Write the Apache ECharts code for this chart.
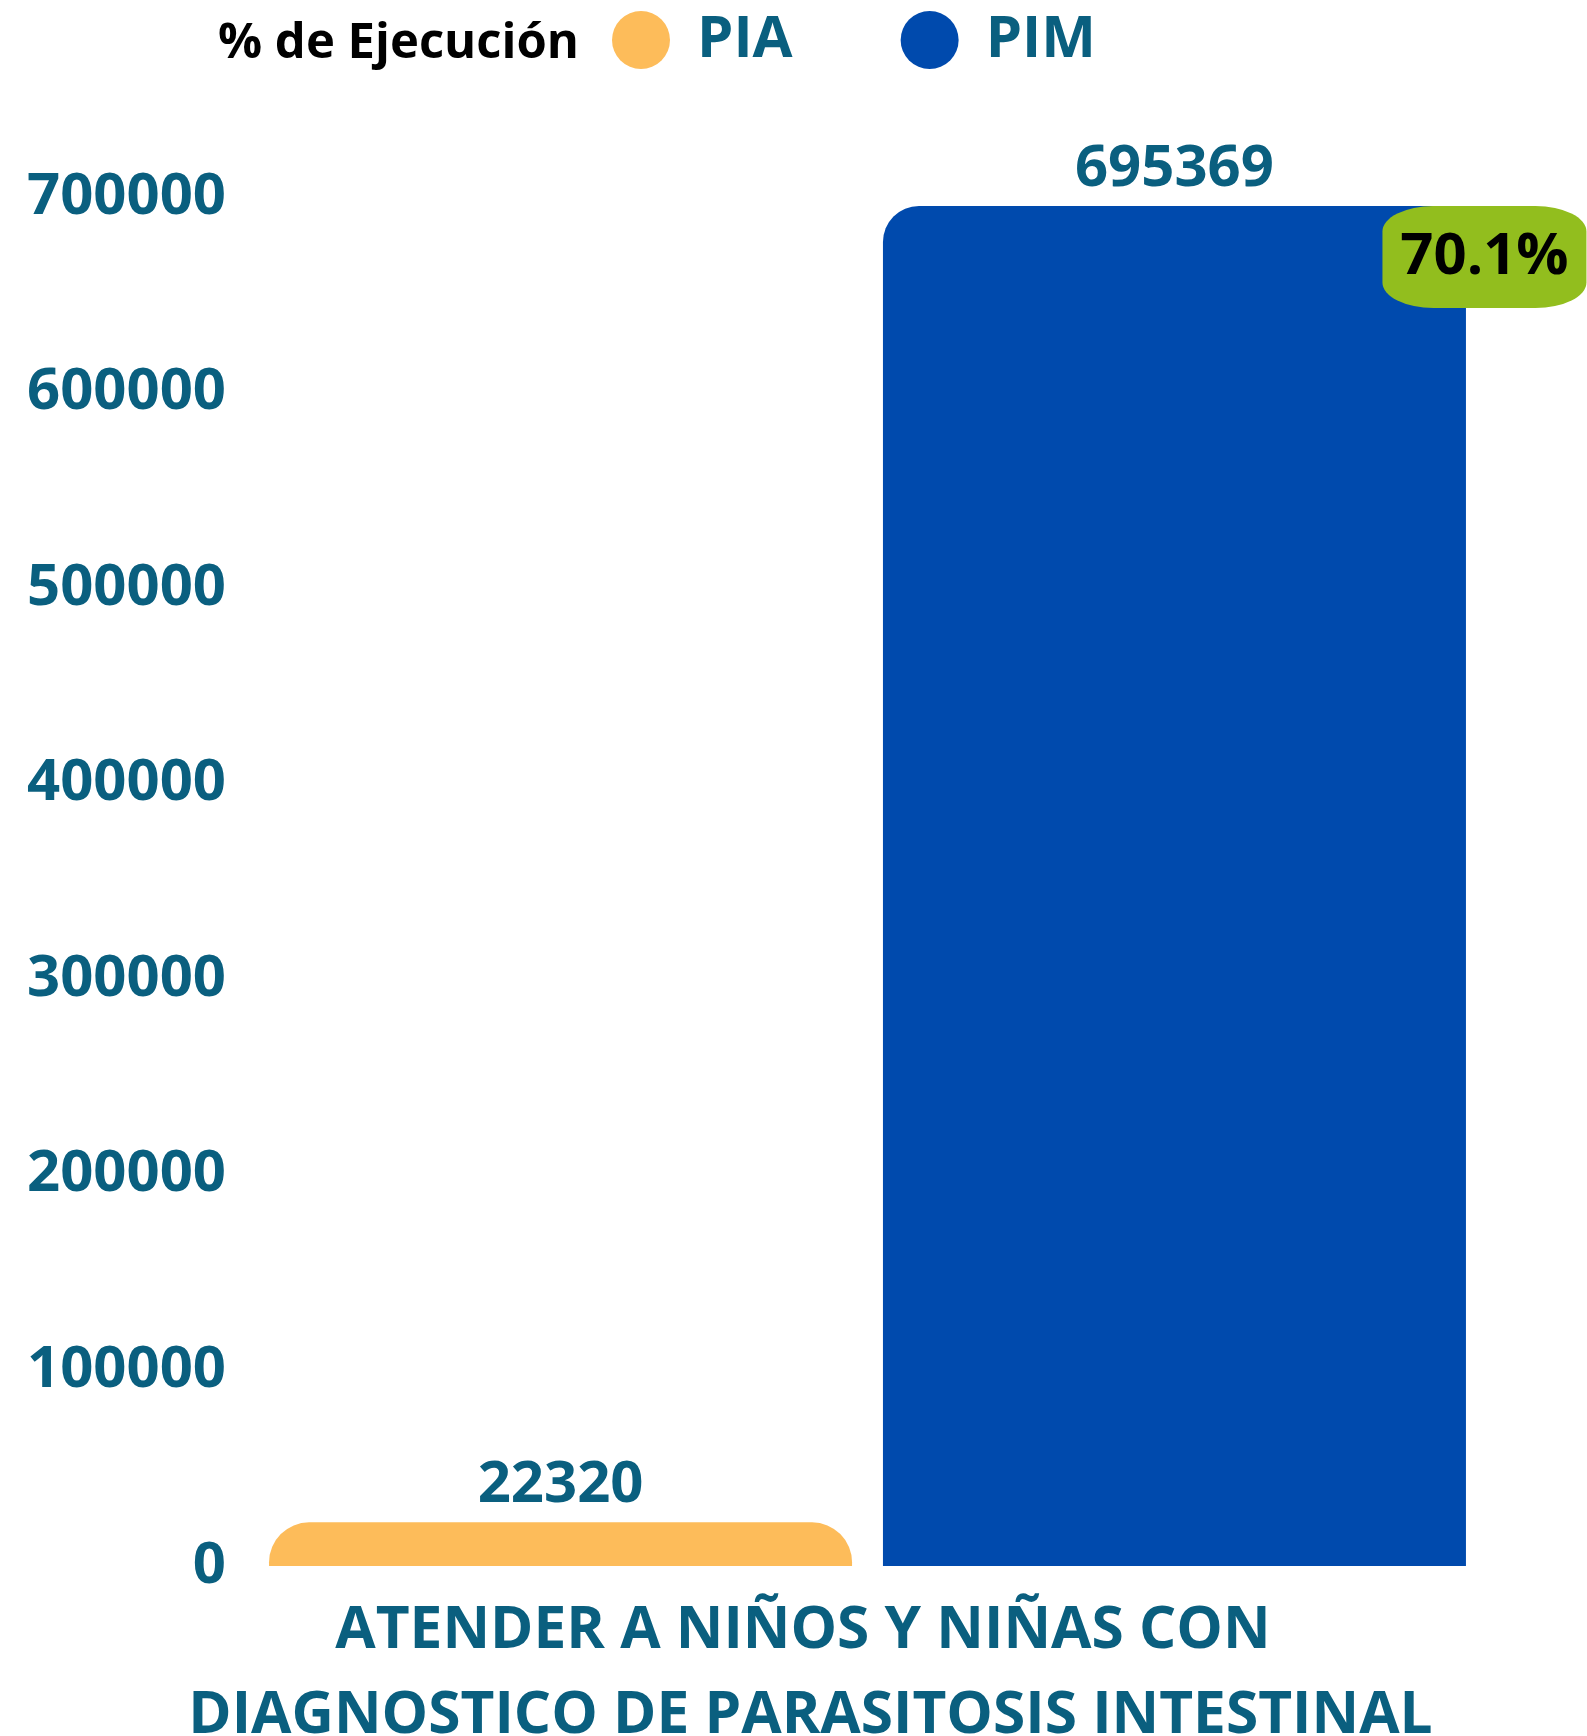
<!DOCTYPE html>
<html>
<head>
<meta charset="utf-8">
<script src="https://cdn.jsdelivr.net/npm/echarts@6/dist/echarts.min.js"></script>
<style>html,body{margin:0;padding:0;background:#fff}#c{width:1587px;height:1736px}</style>
</head>
<body>
<div id="c"></div>
<script>
const categories = ['ATENDER A NIÑOS Y NIÑAS CON DIAGNOSTICO DE PARASITOSIS INTESTINAL'];
const seriesNames = ['PIA', 'PIM'];
const piaValues = [22320];
const pimValues = [695369];
const executionPct = ['70.1%'];
const yTicks = { min: 0, max: 700000, interval: 100000 };

const teal = '#0A5F7F';
const font = 'Open Sans';
const chart = echarts.init(document.getElementById('c'), null, { renderer: 'canvas' });
chart.setOption({
  animation: false,
  backgroundColor: '#ffffff',
  title: {
    text: '% de Ejecución',
    left: 213, top: 15,
    textStyle: { fontFamily: font, fontWeight: 'bold', fontSize: 49, color: '#000' }
  },
  legend: {
    data: seriesNames,
    left: 607, top: 6,
    icon: 'circle',
    itemWidth: 58, itemHeight: 58, itemGap: 108,
    textStyle: { fontFamily: font, fontWeight: 'bold', fontSize: 58, color: teal, padding: [0, 0, 0, 22] }
  },
  grid: { left: 240, right: 92, top: 197, bottom: 170, containLabel: false, outerBoundsMode: 'none' },
  xAxis: {
    type: 'category',
    data: categories,
    axisLine: { show: false }, axisTick: { show: false },
    axisLabel: {
      margin: 23,
      fontFamily: font, fontWeight: 'bold', fontSize: 58.6, color: teal, lineHeight: 85,
      padding: [0, 114, 0, 0],
      formatter: v => v.replace(' CON ', ' CON \n')
    }
  },
  yAxis: {
    type: 'value',
    min: yTicks.min, max: yTicks.max, interval: yTicks.interval,
    axisLine: { show: false }, axisTick: { show: false }, splitLine: { show: false },
    axisLabel: { margin: 14, padding: [10, 0, 0, 0], fontFamily: font, fontWeight: 'bold', fontSize: 58, color: teal, formatter: v => String(v) }
  },
  series: [
    {
      name: seriesNames[0], type: 'bar', data: piaValues,
      barWidth: 583, barGap: '5.3%',
      itemStyle: { color: '#FDBC5A', borderRadius: [40, 40, 0, 0] },
      label: { show: true, position: 'top', distance: 8, fontFamily: font, fontWeight: 'bold', fontSize: 58, color: teal }
    },
    {
      name: seriesNames[1], type: 'bar', data: pimValues,
      barWidth: 583,
      itemStyle: { color: '#004AAD', borderRadius: [36, 36, 0, 0] },
      label: { show: true, position: 'top', distance: 8, fontFamily: font, fontWeight: 'bold', fontSize: 58, color: teal },
      markPoint: {
        symbol: 'roundRect',
        symbolSize: [204, 102],
        symbolOffset: [310, 51],
        itemStyle: { color: '#92BE1E' },
        label: { show: true, formatter: executionPct[0], fontFamily: font, fontWeight: 'bold', fontSize: 58, color: '#000' },
        data: [{ coord: [0, pimValues[0]] }]
      }
    }
  ]
});
</script>
</body>
</html>
